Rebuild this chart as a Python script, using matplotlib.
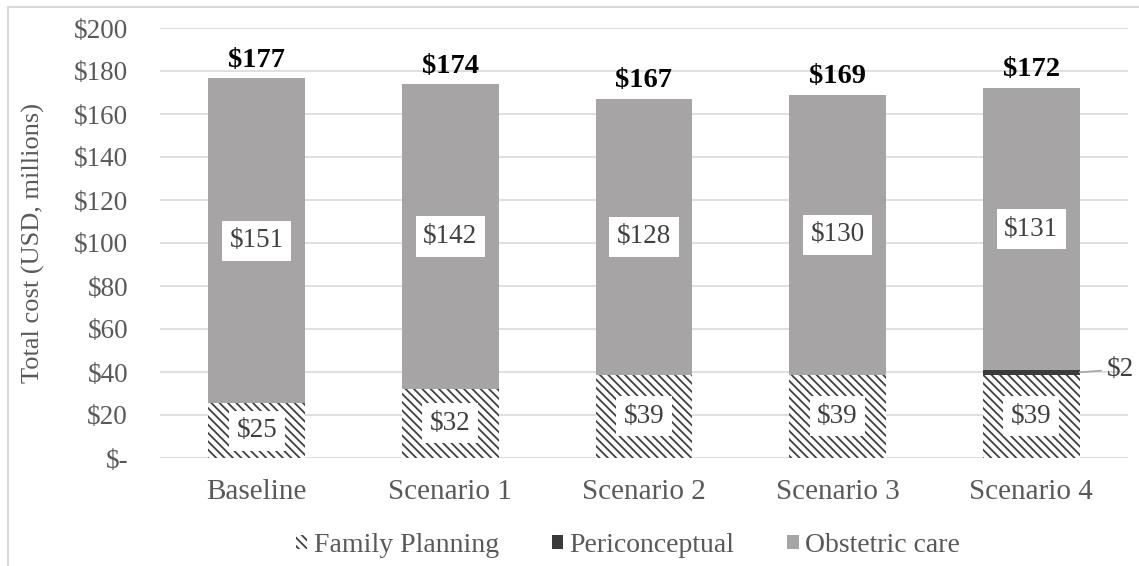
import matplotlib
matplotlib.use("Agg")
import matplotlib.pyplot as plt
from matplotlib.patches import Patch

categories = ["Baseline", "Scenario 1", "Scenario 2", "Scenario 3", "Scenario 4"]
family_planning = [25.4, 32.2, 38.7, 38.7, 38.7]
periconceptual = [0.0, 0.0, 0.0, 0.0, 2.3]
obstetric_care = [151.2, 141.6, 128.4, 130.2, 131.0]
y_ticks = [0, 20, 40, 60, 80, 100, 120, 140, 160, 180, 200]
y_tick_labels = ["$-", "$20", "$40", "$60", "$80", "$100", "$120",
                 "$140", "$160", "$180", "$200"]

plt.rcParams["font.family"] = ["Liberation Serif", "DejaVu Serif"]
plt.rcParams["hatch.linewidth"] = 1.3
plt.rcParams["hatch.color"] = "#404040"

W, H = 1139, 566
fig = plt.figure(figsize=(W / 100, H / 100), dpi=100)
ax = fig.add_axes([160 / W, 1 - 458 / H, (1128 - 160) / W, (458 - 28) / H])

x = list(range(len(categories)))
bw = 0.5
text_gray = "#595959"
label_gray = "#404040"
fp_hatch = "\\\\\\\\"

ax.bar(x, family_planning, width=bw, color="white", edgecolor="#404040",
       hatch=fp_hatch, linewidth=0, zorder=2)
ax.bar(x, periconceptual, width=bw, bottom=family_planning,
       color="#3a3a3a", linewidth=0, zorder=2)
ob_bottom = [a + b for a, b in zip(family_planning, periconceptual)]
ax.bar(x, obstetric_care, width=bw, bottom=ob_bottom,
       color="#a6a4a4", linewidth=0, zorder=2)

label_box = dict(boxstyle="square,pad=0.28", fc="white", ec="none")

for i in x:
    # segment labels
    ax.text(i, family_planning[i] / 2, f"${family_planning[i]:.0f}",
            ha="center", va="center", fontsize=19.5, color=label_gray,
            bbox=label_box, zorder=4)
    ax.text(i, ob_bottom[i] + obstetric_care[i] / 2, f"${obstetric_care[i]:.0f}",
            ha="center", va="center", fontsize=19.5, color=label_gray,
            bbox=label_box, zorder=4)
    total = ob_bottom[i] + obstetric_care[i]
    ax.text(i, total + 8.5, f"${total:.0f}", ha="center", va="center",
            fontsize=20.5, fontweight="bold", color="black", zorder=4)

# small periconceptual segment labelled outside with a leader line
i = 4
pc_mid = family_planning[i] + periconceptual[i] / 2
ax.annotate(f"${periconceptual[i]:.0f}", xy=(i + bw / 2, pc_mid),
            xytext=(i + bw / 2 + 0.14, pc_mid + 1.5), ha="left", va="center",
            fontsize=19.5, color=label_gray,
            arrowprops=dict(arrowstyle="-", color="#a6a6a6", lw=1.2,
                            shrinkA=2, shrinkB=0),
            annotation_clip=False, zorder=4)

ax.set_xlim(-0.5, len(categories) - 0.5)
ax.set_ylim(0, 200)
ax.set_yticks(y_ticks)
ax.set_yticklabels(y_tick_labels)
ax.set_xticks(x)
ax.set_xticklabels(categories)
ax.tick_params(axis="y", length=0, labelsize=19.5, colors=text_gray, pad=23)
ax.tick_params(axis="x", length=0, labelsize=21, colors=text_gray, pad=15)
ax.grid(axis="y", color="#d9d9d9", linewidth=1.2, zorder=0)
ax.set_axisbelow(True)
for s in ax.spines.values():
    s.set_visible(False)
ax.set_ylabel("Total cost (USD, millions)", fontsize=19, color=text_gray)
ax.yaxis.set_label_coords(-(160 - 45) / (1128 - 160), 0.5)

handles = [
    Patch(facecolor="white", edgecolor="#404040", hatch=fp_hatch, linewidth=0,
          label="Family Planning"),
    Patch(facecolor="#3a3a3a", label="Periconceptual"),
    Patch(facecolor="#a6a4a4", label="Obstetric care"),
]
fig.legend(handles=handles, loc="center", bbox_to_anchor=(628 / W, 1 - 545 / H),
           ncol=3, frameon=False, fontsize=20, labelcolor=text_gray,
           handlelength=0.4, handleheight=0.4, handletextpad=0.25,
           columnspacing=1.9)

# chart-area border on the left and top edges
fig.add_artist(plt.Line2D([8 / W, 8 / W], [0, 1 - 7 / H], transform=fig.transFigure,
                          color="#d9d9d9", lw=1.5))
fig.add_artist(plt.Line2D([8 / W, 1], [1 - 7 / H, 1 - 7 / H], transform=fig.transFigure,
                          color="#d9d9d9", lw=1.5))

fig.savefig("out.png", dpi=100, facecolor="white")
